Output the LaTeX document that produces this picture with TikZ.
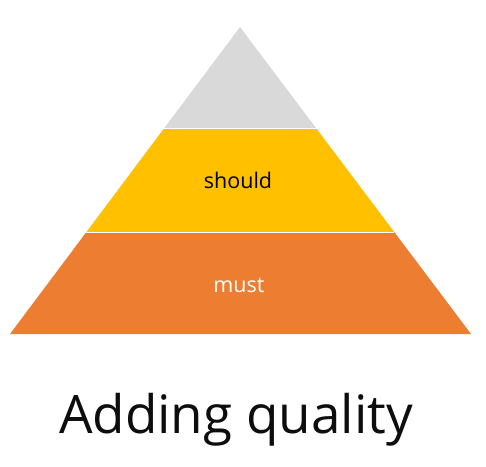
\documentclass[tikz,border=0pt]{standalone}
\usepackage{fontspec}
\setmainfont{Open Sans}
\usetikzlibrary{calc}
\definecolor{tiergray}{HTML}{D9D9D9}
\definecolor{tieryellow}{HTML}{FFC000}
\definecolor{tierorange}{HTML}{ED7D31}
\definecolor{titleblack}{HTML}{0D0D0D}
\begin{document}
\begin{tikzpicture}[x=1pt,y=-1pt,
    tier/.style={draw=white,line width=1pt,line join=miter},
    tierlabel/.style={font=\fontsize{21.5}{21.5}\selectfont,inner sep=0pt}]
    % frame
    \useasboundingbox (0,0) rectangle (486,466);
    % corners of the pyramid
    \coordinate (apex) at (240,27);
    \coordinate (lb) at (10,334);
    \coordinate (rb) at (471,334);
    \coordinate (l1) at ($(apex)!0.332!(lb)$);
    \coordinate (r1) at ($(apex)!0.332!(rb)$);
    \coordinate (l2) at ($(apex)!0.668!(lb)$);
    \coordinate (r2) at ($(apex)!0.668!(rb)$);
    % tiers
    \fill[tierorange] (l2) -- (r2) -- (rb) -- (lb) -- cycle;
    \fill[tieryellow] (l1) -- (r1) -- (r2) -- (l2) -- cycle;
    \fill[tiergray] (apex) -- (r1) -- (l1) -- cycle;
    \draw[tier] (l1) -- (r1);
    \draw[tier] (l2) -- (r2);
    % text
    \node[tierlabel,anchor=base] (should) at (238,188) {should};
    \node[tierlabel,anchor=base,text=white] (must) at (239,292) {must};
    \node[anchor=base,inner sep=0pt,text=titleblack,
          font=\fontsize{53}{53}\selectfont] (title) at (236,433) {Adding quality};
\end{tikzpicture}
\end{document}
